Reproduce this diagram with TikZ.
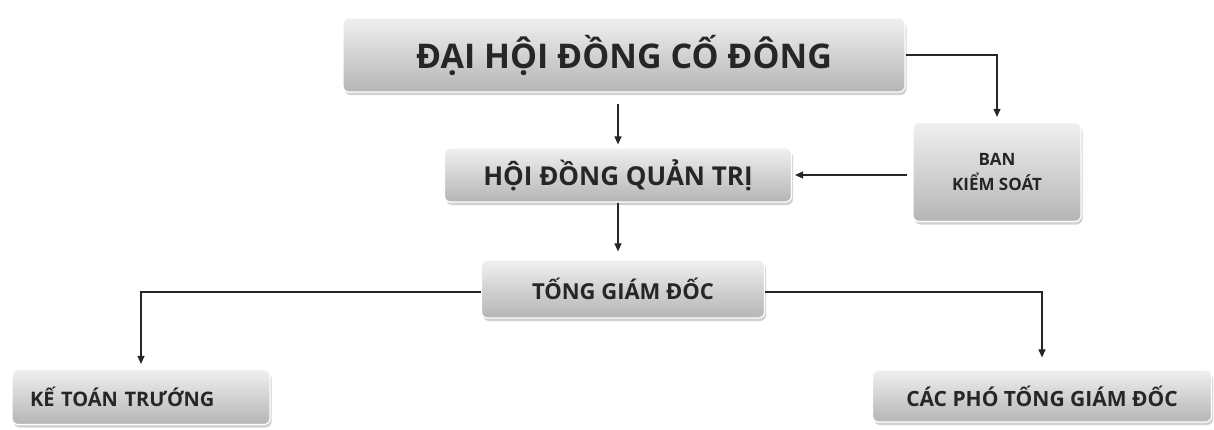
\documentclass[tikz,border=0pt]{standalone}
\usepackage{fontspec}
\setmainfont{Open Sans}
\usetikzlibrary{arrows.meta,shadows}
\begin{document}
\begin{tikzpicture}[x=1pt, y=-1pt,
    box/.style = {rectangle, rounded corners=6pt, draw=white, line width=1.2pt,
        top color=gray!12, bottom color=gray!58, text=black!85,
        font=\bfseries, inner sep=0pt,
        drop shadow={shadow xshift=1.5pt, shadow yshift=-3pt, fill=gray!45, opacity=0.8}},
    link/.style = {black!85, line width=1.1pt, -{Triangle[width=7pt,length=8pt]}}]
\useasboundingbox (0,0) rectangle (1214,429);

\node[box, minimum width=562pt, minimum height=74pt, font=\bfseries\fontsize{34}{38}\selectfont] (DH)  at (624,55) {ĐẠI HỘI ĐỒNG CỐ ĐÔNG};
\node[box, minimum width=347pt, minimum height=54pt, font=\bfseries\fontsize{26}{30}\selectfont] (QT)  at (618,175) {HỘI ĐỒNG QUẢN TRỊ};
\node[box, minimum width=168pt, minimum height=99pt, align=center, font=\bfseries\fontsize{17}{25}\selectfont] (KS)  at (997,172) {BAN\\KIỂM SOÁT};
\node[box, minimum width=283pt, minimum height=58pt, font=\bfseries\fontsize{22}{26}\selectfont] (TG)  at (623,289) {TỐNG GIÁM ĐỐC};
\node[box, text width=222pt, inner xsep=18pt, minimum height=55pt, align=left, font=\bfseries\fontsize{20}{24}\selectfont] (KT)  at (141,397) {KẾ TOÁN TRƯỚNG};
\node[box, minimum width=339pt, minimum height=52pt, font=\bfseries\fontsize{21}{25}\selectfont] (PG)  at (1042,396) {CÁC PHÓ TỐNG GIÁM ĐỐC};

\draw[link, shorten >=5pt] (DH.east) -| (KS.north);
\draw[link, shorten <=11pt, shorten >=3pt] (DH.south -| QT.north) -- (QT.north);
\draw[link, shorten <=5pt, shorten >=3pt] (KS.west |- QT.east) -- (QT.east);
\draw[link, shorten >=8pt] (QT.south) -- (QT.south |- TG.north);
\draw[link, shorten >=5pt] ([yshift=-3pt]TG.west) -| (KT.north);
\draw[link, shorten >=12pt] ([yshift=-3pt]TG.east) -| (PG.north);
\end{tikzpicture}
\end{document}
